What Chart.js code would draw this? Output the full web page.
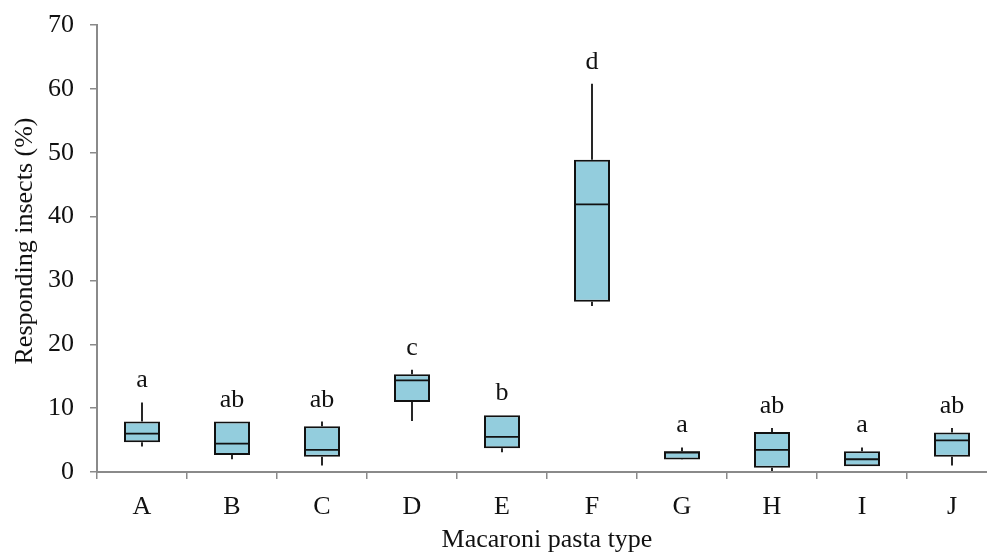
<!DOCTYPE html>
<html>
<head>
<meta charset="utf-8">
<script src="https://cdn.jsdelivr.net/npm/chart.js@4/dist/chart.umd.min.js"></script>
<style>
  html, body { margin: 0; padding: 0; background: #ffffff; overflow: hidden; }
  #wrap { width: 1000px; height: 553px; position: relative; }
</style>
</head>
<body>
<div id="wrap"><canvas id="c"></canvas></div>
<script>
// ---- Data ----
const categories = ['A', 'B', 'C', 'D', 'E', 'F', 'G', 'H', 'I', 'J'];
const minVals    = [4.0, 2.0, 1.0, 8.0, 3.1, 26.0, 1.9, 0.15, 0.9, 1.0];
const q1Vals     = [4.65, 2.65, 2.4, 10.95, 3.7, 26.65, 1.95, 0.65, 0.9, 2.4];
const medianVals = [6.0, 4.45, 3.45, 14.35, 5.5, 41.9, 3.05, 3.45, 2.0, 4.95];
const q3Vals     = [7.9, 7.9, 7.15, 15.3, 8.9, 48.9, 3.25, 6.25, 3.25, 6.2];
const maxVals    = [10.9, 7.9, 7.9, 16.0, 8.9, 60.8, 3.85, 6.9, 3.85, 6.9];
const groupLetters = ['a', 'ab', 'ab', 'c', 'b', 'd', 'a', 'ab', 'a', 'ab'];
const yTickValues = [0, 10, 20, 30, 40, 50, 60, 70];
const xTitle = 'Macaroni pasta type';
const yTitle = 'Responding insects (%)';

const FONT = "'Liberation Serif', 'Times New Roman', serif";
const AXIS_GRAY = '#8a8a8a';

const boxPlugin = {
  id: 'boxParts',
  afterDatasetsDraw(chart) {
    const ctx = chart.ctx;
    const y = chart.scales.y;
    const meta = chart.getDatasetMeta(0);
    ctx.save();
    ctx.strokeStyle = '#111111';
    ctx.lineWidth = 1.8;
    meta.data.forEach((bar, i) => {
      const x = bar.x;
      const half = bar.width / 2;
      // whiskers
      ctx.beginPath();
      ctx.moveTo(x, y.getPixelForValue(q3Vals[i]));
      ctx.lineTo(x, y.getPixelForValue(maxVals[i]));
      ctx.moveTo(x, y.getPixelForValue(q1Vals[i]));
      ctx.lineTo(x, y.getPixelForValue(minVals[i]));
      ctx.stroke();
      // median
      ctx.beginPath();
      const my = y.getPixelForValue(medianVals[i]);
      ctx.moveTo(x - half, my);
      ctx.lineTo(x + half, my);
      ctx.stroke();
      // group letters
      ctx.fillStyle = '#111111';
      ctx.font = '26px ' + FONT;
      ctx.textAlign = 'center';
      ctx.textBaseline = 'alphabetic';
      ctx.fillText(groupLetters[i], x, y.getPixelForValue(maxVals[i]) - 15);
    });
    // y axis title
    ctx.save();
    ctx.translate(25, 241);
    ctx.rotate(-Math.PI / 2);
    ctx.font = '26px ' + FONT;
    ctx.fillStyle = '#111111';
    ctx.textAlign = 'center';
    ctx.textBaseline = 'middle';
    ctx.fillText(yTitle, 0, 0);
    ctx.restore();
    ctx.restore();
  }
};

new Chart(document.getElementById('c'), {
  type: 'bar',
  data: {
    labels: categories,
    datasets: [{
      label: 'Responding insects',
      data: q1Vals.map((v, i) => [v, q3Vals[i]]),
      backgroundColor: '#93CDDD',
      borderColor: '#111111',
      borderWidth: 2,
      borderSkipped: false,
      categoryPercentage: 1.0,
      barPercentage: 0.4
    }]
  },
  options: {
    responsive: true,
    maintainAspectRatio: false,
    animation: false,
    layout: { padding: { top: 25, right: 3, left: 0, bottom: 0 } },
    plugins: {
      legend: { display: false },
      tooltip: { enabled: false }
    },
    scales: {
      x: {
        grid: {
          offset: true,
          drawOnChartArea: false,
          drawTicks: true,
          tickLength: 7,
          color: AXIS_GRAY,
          lineWidth: 1.5
        },
        border: { display: true, color: AXIS_GRAY, width: 2 },
        ticks: {
          color: '#111111',
          font: { family: FONT, size: 26 },
          padding: 13,
          maxRotation: 0
        },
        title: {
          display: true,
          text: xTitle,
          color: '#111111',
          font: { family: FONT, size: 26 },
          padding: { top: 0, bottom: -3 }
        },
        afterFit(s) { s.height = 81; s.paddingLeft = 0; s.paddingRight = 0; }
      },
      y: {
        min: 0,
        max: 70,
        afterBuildTicks(s) { s.ticks = yTickValues.map(v => ({ value: v })); },
        grid: {
          drawOnChartArea: false,
          drawTicks: true,
          tickLength: 7,
          color: AXIS_GRAY,
          lineWidth: 1.5
        },
        border: { display: true, color: AXIS_GRAY, width: 2 },
        ticks: {
          color: '#111111',
          font: { family: FONT, size: 26 },
          padding: 16
        },
        afterFit(s) { s.width = 97; s.paddingTop = 0; s.paddingBottom = 0; }
      }
    }
  },
  plugins: [boxPlugin]
});
</script>
</body>
</html>
